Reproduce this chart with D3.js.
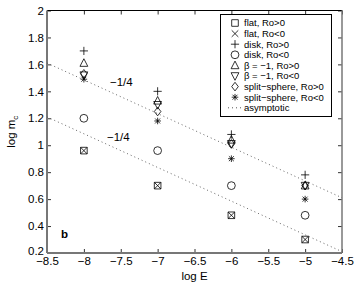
<!DOCTYPE html>
<html><head><meta charset="utf-8">
<script src="https://cdn.jsdelivr.net/npm/d3@7"></script>
<style>body{margin:0;background:#fff}svg{display:block;font-family:"Liberation Sans",Arial,sans-serif}</style>
</head><body><svg id="c" width="354" height="286"></svg>
<script>
const logE = [-8, -7, -6, -5];
const flatPos = [0.96, 0.70, 0.48, 0.30];
const flatNeg = [0.96, 0.70, 0.48, 0.30];
const diskPos = [1.70, 1.40, 1.08, 0.78];
const diskNeg = [1.20, 0.96, 0.70, 0.48];
const betaPos = [1.61, 1.33, 1.04, 0.70];
const betaNeg = [1.52, 1.30, 1.01, 0.70];
const splitPos = [1.53, 1.25, 1.01, 0.70];
const splitNeg = [1.49, 1.18, 0.90, 0.60];
const asymUpper = [[-8.5, 1.61], [-4.5, 0.61]];
const asymLower = [[-8.5, 1.21], [-4.5, 0.21]];
const xTicks = [-8.5, -8, -7.5, -7, -6.5, -6, -5.5, -5, -4.5];
const yTicks = [0.2, 0.4, 0.6, 0.8, 1, 1.2, 1.4, 1.6, 1.8, 2];
const legendLabels = ["flat, Ro>0", "flat, Ro<0", "disk, Ro>0", "disk, Ro<0", "\u03b2 = \u22121, Ro>0", "\u03b2 = \u22121, Ro<0", "split\u2212sphere, Ro>0", "split\u2212sphere, Ro<0", "asymptotic"];

const svg = d3.select("#c");
const L = 47, R = 342, T = 10.5, B = 253;
const x = d3.scaleLinear().domain([-8.5, -4.5]).range([L, R]);
const y = d3.scaleLinear().domain([0.2, 2]).range([B, T]);
const fmt = v => String(v).replace("-", "\u2212");
const FS = 11.5;

// axes
const ax = svg.append("g").attr("transform", `translate(0,${B})`)
  .call(d3.axisBottom(x).tickValues(xTicks).tickSize(-4).tickPadding(4).tickFormat(fmt));
const ay = svg.append("g").attr("transform", `translate(${L},0)`)
  .call(d3.axisLeft(y).tickValues(yTicks).tickSize(-4).tickPadding(3).tickFormat(fmt));
const at = svg.append("g").attr("transform", `translate(0,${T})`)
  .call(d3.axisTop(x).tickValues(xTicks).tickSize(-4).tickFormat(""));
const ar = svg.append("g").attr("transform", `translate(${R},0)`)
  .call(d3.axisRight(y).tickValues(yTicks).tickSize(-4).tickFormat(""));
[ax, ay, at, ar].forEach(g => {
  g.select(".domain").remove();
  g.selectAll("line").attr("stroke", "#333");
  g.selectAll("text").attr("font-size", FS).attr("fill", "#000").attr("font-family", "Liberation Sans, Arial, sans-serif");
});
ay.selectAll(".tick").filter(d => d === 0.2).select("text").attr("dy", "0.1em");
svg.append("line").attr("x1", L).attr("x2", R).attr("y1", T).attr("y2", T).attr("stroke", "#000").attr("stroke-width", 1);
svg.append("line").attr("x1", R).attr("x2", R).attr("y1", T).attr("y2", B).attr("stroke", "#777").attr("stroke-width", 1.5);
svg.append("line").attr("x1", L).attr("x2", L).attr("y1", T).attr("y2", B).attr("stroke", "#777").attr("stroke-width", 2);
svg.append("line").attr("x1", L).attr("x2", R).attr("y1", B).attr("y2", B).attr("stroke", "#777").attr("stroke-width", 2);

// axis labels
svg.append("text").attr("x", (L + R) / 2).attr("y", 280).attr("text-anchor", "middle").attr("font-size", FS).text("log E");
const yl = svg.append("text").attr("transform", `translate(15,${(T + B) / 2}) rotate(-90)`).attr("text-anchor", "middle").attr("font-size", FS);
yl.append("tspan").text("log m");
yl.append("tspan").attr("font-size", 8).attr("dy", 3).text("c");

// asymptotic lines
const line = d3.line().x(d => x(d[0])).y(d => y(d[1]));
[asymUpper, asymLower].forEach(a => {
  svg.append("path").attr("d", line(a)).attr("fill", "none").attr("stroke", "#555").attr("stroke-width", 0.9).attr("stroke-dasharray", "1,3");
});
svg.append("rect").attr("x", 109).attr("y", 73).attr("width", 27).attr("height", 13).attr("fill", "#fff");
svg.append("text").attr("x", 110).attr("y", 86).attr("font-size", FS).text("\u22121/4");
svg.append("rect").attr("x", 106).attr("y", 129).attr("width", 27).attr("height", 13).attr("fill", "#fff");
svg.append("text").attr("x", 107).attr("y", 141).attr("font-size", FS).text("\u22121/4");
svg.append("text").attr("x", 61).attr("y", 238).attr("font-size", FS).attr("font-weight", "bold").text("b");

// marker shapes
const s = 3.3;
const shapes = {
  square: `M${-s},${-s}H${s}V${s}H${-s}Z`,
  cross: `M${-s},${-s}L${s},${s}M${-s},${s}L${s},${-s}`,
  plus: `M${-s - 0.8},0H${s + 0.8}M0,${-s - 0.8}V${s + 0.8}`,
  circle: `M${s + 0.6},0A${s + 0.6},${s + 0.6} 0 1,1 ${-s - 0.6},0A${s + 0.6},${s + 0.6} 0 1,1 ${s + 0.6},0Z`,
  triUp: `M0,${-s - 1}L${s + 0.6},${s}L${-s - 0.6},${s}Z`,
  triDown: `M0,${s + 1}L${s + 0.6},${-s}L${-s - 0.6},${-s}Z`,
  diamond: `M0,${-s - 1}L${s},0L0,${s + 1}L${-s},0Z`,
  star: `M${-s},0H${s}M0,${-s}V${s}M${-s * 0.75},${-s * 0.75}L${s * 0.75},${s * 0.75}M${-s * 0.75},${s * 0.75}L${s * 0.75},${-s * 0.75}`
};
const series = [
  {v: flatPos, m: "square"}, {v: flatNeg, m: "cross"}, {v: diskPos, m: "plus"}, {v: diskNeg, m: "circle"},
  {v: betaPos, m: "triUp"}, {v: betaNeg, m: "triDown"}, {v: splitPos, m: "diamond"}, {v: splitNeg, m: "star"}
];
series.forEach(sr => {
  svg.append("g").selectAll("path").data(sr.v).join("path")
    .attr("transform", (d, i) => `translate(${x(logE[i])},${y(d)})`)
    .attr("d", shapes[sr.m]).attr("fill", "none").attr("stroke", "#000").attr("stroke-width", 0.8);
});

// legend
const lg = svg.append("g");
lg.append("rect").attr("x", 220.5).attr("y", 14.5).attr("width", 111).attr("height", 102).attr("fill", "#fff").attr("stroke", "#000").attr("stroke-width", 1);
legendLabels.forEach((t, i) => {
  const yy = 23 + i * 10.6;
  if (i < 8) {
    lg.append("path").attr("transform", `translate(235,${yy})`).attr("d", shapes[series[i].m]).attr("fill", "none").attr("stroke", "#000").attr("stroke-width", 0.8);
  } else {
    lg.append("line").attr("x1", 228).attr("x2", 242).attr("y1", yy).attr("y2", yy).attr("stroke", "#555").attr("stroke-dasharray", "1,3");
  }
  lg.append("text").attr("x", 244).attr("y", yy + 3.3).attr("font-size", 9.5).text(t);
});
</script></body></html>
